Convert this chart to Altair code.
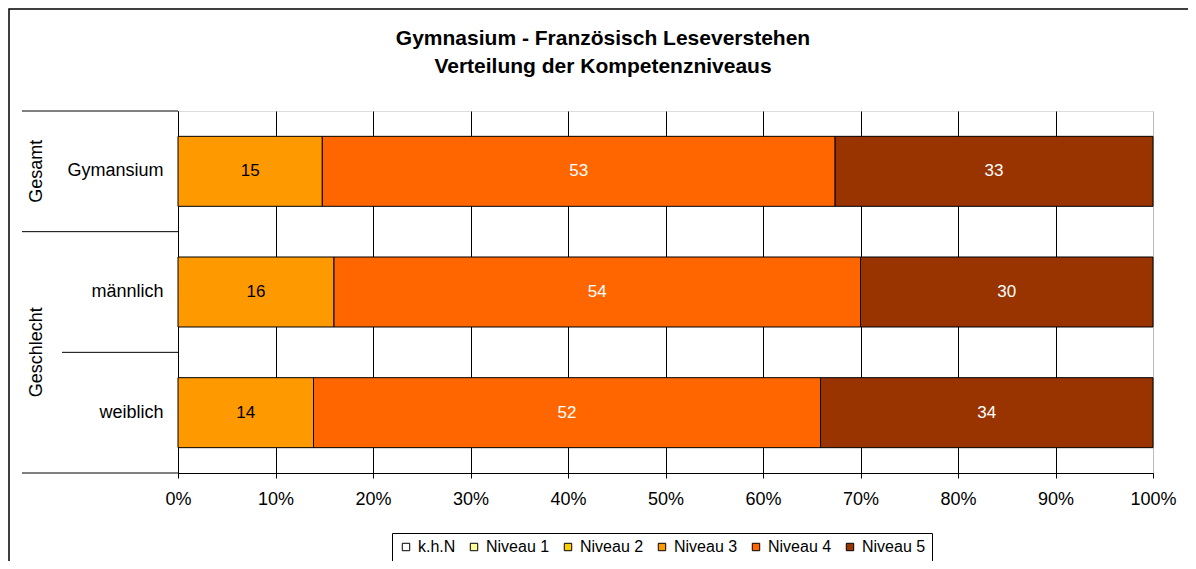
import altair as alt
import pandas as pd

# ---- data ----
categories = ["Gymansium", "männlich", "weiblich"]
levels = ["k.h.N", "Niveau 1", "Niveau 2", "Niveau 3", "Niveau 4", "Niveau 5"]
level_colors = ["#FFFFFF", "#FFFF99", "#FFCC00", "#FF9900", "#FF6600", "#993300"]
niveau3 = [14.8, 16.0, 13.9]
niveau4 = [52.6, 54.0, 52.0]
niveau5 = [32.6, 30.0, 34.1]
groups = ["Gesamt", "Geschlecht"]
group_pos = [0.5, 2.0]
sep_full = [0, 1, 3]
sep_short = [2]
x_ticks = [0, 0.1, 0.2, 0.3, 0.4, 0.5, 0.6, 0.7, 0.8, 0.9, 1.0]
title_lines = ["Gymnasium - Französisch Leseverstehen", "Verteilung der Kompetenzniveaus"]

rows = []
for i, c in enumerate(categories):
    for lev, vals in (("Niveau 3", niveau3), ("Niveau 4", niveau4), ("Niveau 5", niveau5)):
        rows.append({"cat": c, "level": lev, "order": levels.index(lev), "value": vals[i]})
df = pd.DataFrame(rows)

FONT = "Liberation Sans"
W, H = 975, 362

base = alt.Chart(df).transform_stack(
    stack="value", groupby=["cat"], as_=["x0", "x1"],
    sort=[alt.SortField("order")], offset="normalize"
).transform_calculate(mid="(datum.x0 + datum.x1) / 2")

yband = alt.Y("cat:N", sort=categories,
              scale=alt.Scale(paddingInner=0.42, paddingOuter=0.21),
              axis=alt.Axis(title=None, ticks=False, tickSize=0, labelPadding=15,
                            labelFontSize=18, labelColor="black", labelFont=FONT,
                            domainColor="black", grid=False))

xq = alt.X("x0:Q", scale=alt.Scale(domain=[0, 1], nice=False),
           axis=alt.Axis(title=None, values=x_ticks, format=".0%", grid=True,
                         gridColor="black", gridWidth=1,
                         gridOpacity=alt.ExprRef("datum.value == 1 ? 0.15 : 1"),
                         tickColor="black", tickSize=5, domainColor="black",
                         labelFontSize=18, labelColor="black", labelFont=FONT,
                         labelPadding=12, labelFlush=False))

bars = base.mark_bar(stroke="black", strokeWidth=1).encode(
    y=yband,
    x=xq,
    x2="x1:Q",
    color=alt.Color("level:N",
                    scale=alt.Scale(domain=levels, range=level_colors),
                    legend=alt.Legend(title=None, orient="none", legendX=214, legendY=422,
                                      direction="horizontal", strokeColor="black",
                                      fillColor="white", padding=6,
                                      symbolType="square", symbolSize=55,
                                      symbolStrokeColor="black", symbolStrokeWidth=1,
                                      labelFontSize=16, labelFont=FONT, labelColor="black",
                                      labelOffset=4, columnPadding=10)),
)

labels = base.mark_text(fontSize=17, font=FONT).encode(
    y=alt.Y("cat:N", sort=categories),
    x=alt.X("mid:Q"),
    text=alt.Text("value:Q", format=".0f"),
    color=alt.condition(alt.datum.level == "Niveau 3", alt.value("black"), alt.value("white")),
)

main = alt.layer(bars, labels)

ysep = alt.Y("pos:Q", scale=alt.Scale(domain=[0, 3], reverse=True, nice=False), axis=None)

sep_full_layer = alt.Chart(pd.DataFrame({"pos": sep_full})).mark_rule(
    color="black", strokeWidth=1).encode(y=ysep, x=alt.value(-156), x2=alt.value(0))
sep_short_layer = alt.Chart(pd.DataFrame({"pos": sep_short})).mark_rule(
    color="black", strokeWidth=1).encode(y=ysep, x=alt.value(-116), x2=alt.value(0))

group_layer = alt.Chart(pd.DataFrame({"g": groups, "pos": group_pos})).mark_text(
    angle=270, fontSize=18, font=FONT, color="black", baseline="middle", align="center"
).encode(y=ysep, x=alt.value(-141), text="g:N")

title_df = pd.DataFrame({"t": title_lines, "n": [0, 1]})
title_layer = alt.Chart(title_df).mark_text(
    fontSize=21, fontWeight="bold", font=FONT, color="black", align="center",
    baseline="alphabetic"
).encode(
    text="t:N",
    x=alt.value(425),
    y=alt.Y("n:Q", scale=alt.Scale(domain=[0, 1], range=[-66, -38]), axis=None),
)

frame = alt.Chart(pd.DataFrame({"a": [0]})).mark_rect(
    fill=None, stroke="black", strokeWidth=1.5).encode(
    x=alt.value(-169), x2=alt.value(1040), y=alt.value(-102), y2=alt.value(480))

chart = alt.layer(
    frame, main, sep_full_layer, sep_short_layer, group_layer, title_layer
).resolve_scale(y="independent").properties(
    width=W, height=H,
    autosize=alt.AutoSizeParams(type="none"),
    padding={"left": 170, "top": 103, "right": 35, "bottom": 88},
).configure_view(stroke=None).configure(font=FONT, background="white")

chart.save("out.html", embed_options={"renderer": "svg", "actions": False})
